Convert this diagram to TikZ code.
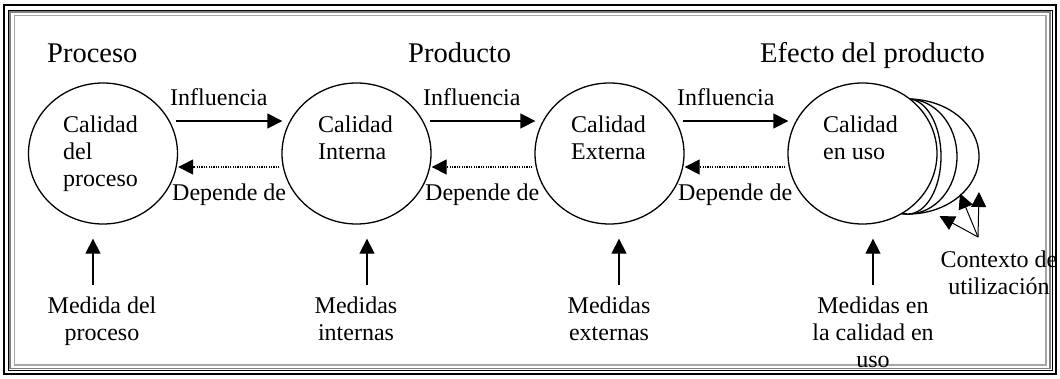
\documentclass[tikz,border=0pt]{standalone}
\usepackage{fontspec}
\setmainfont{Liberation Serif}
\usetikzlibrary{calc, positioning, arrows.meta, shapes.geometric}

\tikzset{
  calidad/.style={ellipse, draw, line width=1.3pt, fill=white, inner sep=0pt, minimum width=149pt, minimum height=141pt},
  fondo/.style={ellipse, draw, line width=1.3pt, fill=white, inner sep=0pt, minimum height=115pt},
  titulo/.style={font=\fontsize{28.5}{34}\selectfont, inner sep=0pt},
  etiq/.style={font=\fontsize{24}{27}\selectfont, inner sep=0pt},
  flecha/.style={-{Triangle[length=15pt,width=15pt]}, line width=1.3pt},
  depende/.style={-{Triangle[length=15pt,width=15pt]}, line width=1.1pt, dash pattern=on 1.2pt off 1.2pt},
}

\begin{document}
\begin{tikzpicture}[x=1pt,y=-1pt]
  \useasboundingbox (0,0) rectangle (1060,378);

  % marco
  \draw[line width=1.7pt] (4.2,4.8) rectangle (1056,374);
  \draw[line width=0.9pt] (8,10) rectangle (1052,370.5);
  \draw[gray, line width=1.4pt] (10,11.8) rectangle (1050,368.5);
  \draw[gray!70, line width=1.2pt] (14.6,15.4) rectangle (1046,365);

  % titulos
  \node[titulo, anchor=base west] (tproc) at (47,62) {Proceso};
  \node[titulo, anchor=base west] (tprod) at (408,62) {Producto};
  \node[titulo, anchor=base west] (tefec) at (760,62) {Efecto del producto};

  % contextos (detras de la calidad en uso)
  \node[fondo, minimum width=142pt] (e3) at (908,156.5) {};
  \node[fondo, minimum width=98pt] (e2) at (908,156.5) {};
  \node[fondo, minimum width=66pt] (e1) at (908,156.5) {};

  % calidades
  \foreach \n/\x in {c1/103, c2/356.5, c3/609.5, c4/862.5}
    \node[calidad] (\n) at (\x,153.5) {};

  \node[etiq, anchor=north west, align=left] (t1) at (63,115.5) {Calidad\\del\\proceso};
  \node[etiq, anchor=north west, align=left] (t2) at (318,115.5) {Calidad\\Interna};
  \node[etiq, anchor=north west, align=left] (t3) at (571,115.5) {Calidad\\Externa};
  \node[etiq, anchor=north west, align=left] (t4) at (823,115.5) {Calidad\\en uso};

  % influencia / depende de
  \foreach \a/\b in {c1/c2, c2/c3, c3/c4} {
    \draw[flecha] ($(\a.east)+(-2,-32.5)$) -- ($(\b.west)+(1,-32.5)$);
    \draw[depende] ($(\b.west)+(-2,13.5)$) -- ($(\a.east)+(0,13.5)$);
  }
  \node[etiq, anchor=base west] (i1) at (170,105) {Influencia};
  \node[etiq, anchor=base west] (i2) at (423,105) {Influencia};
  \node[etiq, anchor=base west] (i3) at (677,105) {Influencia};
  \node[etiq, anchor=base west] (d1) at (172,200) {Depende de};
  \node[etiq, anchor=base west] (d2) at (425,200) {Depende de};
  \node[etiq, anchor=base west] (d3) at (678,200) {Depende de};

  % medidas
  \node[etiq, anchor=north, align=center] (m1) at (102,297) {Medida del\\proceso};
  \node[etiq, anchor=north, align=center] (m2) at (356,297) {Medidas\\internas};
  \node[etiq, anchor=north, align=center] (m3) at (609,297) {Medidas\\externas};
  \node[etiq, anchor=north, align=center] (m4) at (873,297) {Medidas en\\la calidad en\\uso};

  \draw[flecha] ($(m1.north)+(-9,-12)$) -- ($(c1.south)+(-10,14)$);
  \draw[flecha] ($(m2.north)+(11,-12)$) -- ($(c2.south)+(10.5,14)$);
  \draw[flecha] ($(m3.north)+(10,-12)$) -- ($(c3.south)+(9.5,14)$);
  \draw[flecha] ($(m4.north)+(0,-12)$) -- ($(c4.south)+(10.5,14)$);

  % contexto de utilizacion
  \node[etiq, anchor=north, align=center] (ctx) at (999,251) {Contexto de\\utilización};
  \coordinate (cb) at ($(ctx.north)+(-21,-14)$);
  \coordinate (u1) at (979,192);
  \coordinate (u2) at (960,193.5);
  \coordinate (u3) at (939.5,216);
  \foreach \p in {u1,u2,u3}
    \draw[flecha, line width=1pt] (cb) -- (\p);
\end{tikzpicture}
\end{document}
